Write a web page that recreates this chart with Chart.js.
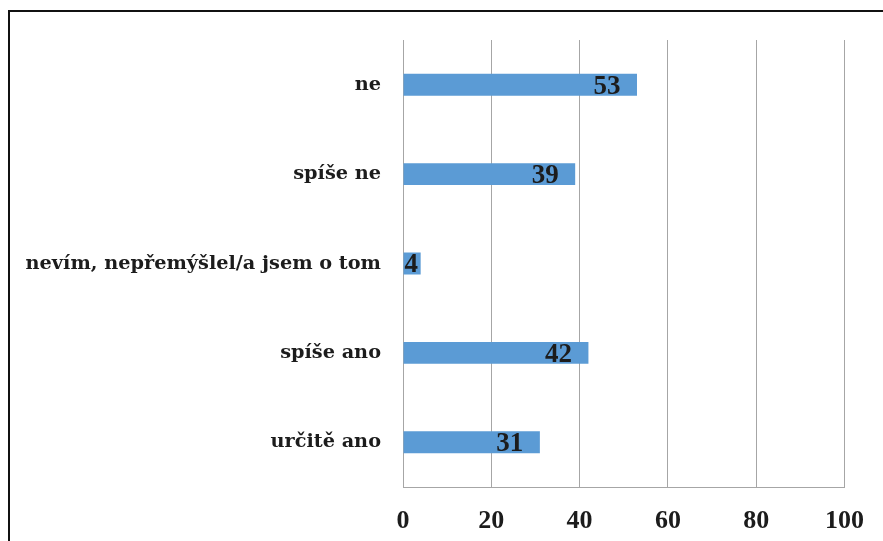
<!DOCTYPE html>
<html>
<head>
<meta charset="utf-8">
<script src="https://cdn.jsdelivr.net/npm/chart.js@4/dist/chart.umd.min.js"></script>
<style>
  html, body { margin: 0; padding: 0; background: #fff; overflow: hidden; }
  #wrap { position: relative; width: 883px; height: 541px; }
  #frame { position: absolute; left: 8px; top: 10px; width: 900px; height: 560px;
           border-left: 2px solid #111; border-top: 2px solid #111; box-sizing: border-box; }
  canvas { position: absolute; left: 0; top: 0; }
</style>
</head>
<body>
<div id="wrap">
  <div id="frame"></div>
  <canvas id="c" width="883" height="541"></canvas>
</div>
<script>
const categories = ['ne', 'spíše ne', 'nevím, nepřemýšlel/a jsem o tom', 'spíše ano', 'určitě ano'];
const values = [53, 39, 4, 42, 31];
const xTicks = [0, 20, 40, 60, 80, 100];

const BAR_COLOR = '#5b9bd5';
const TEXT_COLOR = '#1c1c1c';
const SERIF = '"Liberation Serif", "Times New Roman", serif';
const WIDE_SERIF = '"DejaVu Serif", serif';

// Value labels placed near the end of each bar, kept inside the bar
const valueLabels = {
  id: 'valueLabels',
  afterDatasetsDraw(chart) {
    const ctx = chart.ctx;
    const meta = chart.getDatasetMeta(0);
    ctx.save();
    ctx.font = 'bold 27px ' + SERIF;
    ctx.fillStyle = TEXT_COLOR;
    ctx.textAlign = 'center';
    ctx.textBaseline = 'middle';
    meta.data.forEach((bar, i) => {
      const start = bar.base;
      const end = bar.x;
      const w = ctx.measureText(String(values[i])).width;
      let cx = end - 30;
      if (cx - w / 2 < start + 1) cx = start + 1 + w / 2;
      ctx.fillText(String(values[i]), cx, bar.y + 2);
    });
    ctx.restore();
  }
};

new Chart(document.getElementById('c'), {
  type: 'bar',
  data: {
    labels: categories,
    datasets: [{
      data: values,
      backgroundColor: BAR_COLOR,
      borderWidth: 0,
      barPercentage: 0.5,
      categoryPercentage: 0.49
    }]
  },
  options: {
    indexAxis: 'y',
    responsive: false,
    animation: false,
    events: [],
    layout: { padding: { left: 0, right: 33, top: 40, bottom: 0 } },
    plugins: { legend: { display: false }, tooltip: { enabled: false } },
    scales: {
      x: {
        min: 0, max: 100,
        afterBuildTicks(scale) { scale.ticks = xTicks.map(v => ({ value: v })); },
        afterFit(scale) { scale.height = 54; },
        grid: { color: '#a6a6a6', lineWidth: 1, drawTicks: false },
        border: { color: '#a6a6a6', width: 1 },
        ticks: {
          padding: 19,
          color: TEXT_COLOR,
          font: { family: SERIF, size: 26, weight: 'bold' }
        }
      },
      y: {
        afterFit(scale) { scale.width = 403; },
        grid: { display: false, drawTicks: false },
        border: { color: '#a6a6a6', width: 1 },
        ticks: {
          padding: 22,
          color: TEXT_COLOR,
          font: { family: WIDE_SERIF, size: 19.3, weight: 'bold' }
        }
      }
    }
  },
  plugins: [valueLabels]
});
</script>
</body>
</html>
